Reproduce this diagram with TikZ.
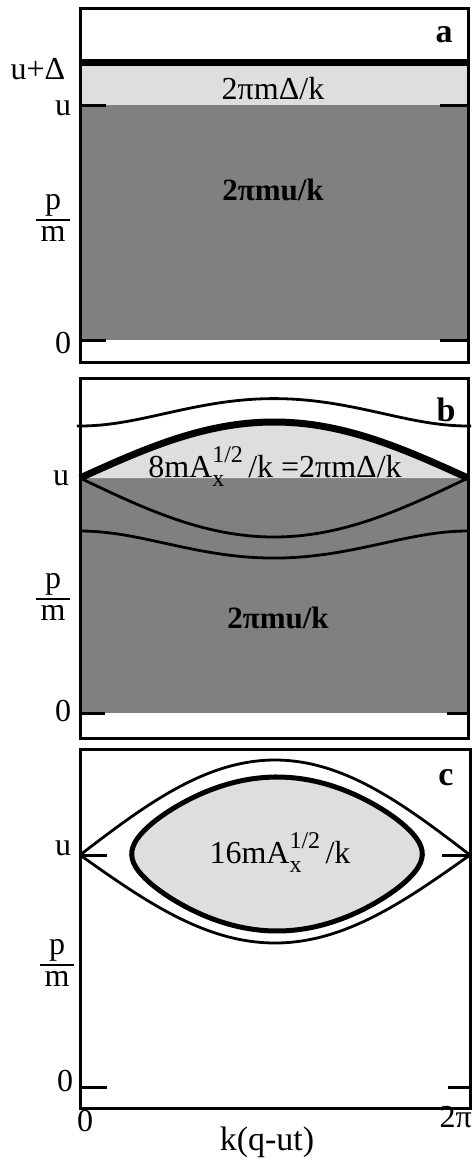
\documentclass[tikz,border=0pt]{standalone}
\usepackage{fontspec}
\setmainfont{Liberation Serif}
\begin{document}
\begin{tikzpicture}[x=1pt,y=-1pt,
  frame/.style={line width=3pt},
  tickline/.style={line width=3pt},
  curve/.style={line width=2.8pt},
  thickcurve/.style={line width=7pt},
  darkfill/.style={fill=black!50},
  lightfill/.style={fill=black!13},
  lbl/.style={font=\fontsize{32}{36}\selectfont, inner sep=0pt},
  tag/.style={font=\fontsize{34}{38}\selectfont\bfseries, inner sep=0pt},
  frac/.style={font=\fontsize{32}{36}\selectfont, inner sep=0pt, align=center}]
\useasboundingbox (0,0) rectangle (473,1159);
% ---------------- panel a
\fill[darkfill] (80,105) rectangle (468,340);
\fill[lightfill] (80,66) rectangle (468,105);
\draw[thickcurve] (80,62.5) -- (468,62.5);
\draw[frame] (80,8) rectangle (468,362);
\draw[tickline] (80,105) -- (106,105) (440,105) -- (468,105);
\draw[tickline] (80,340) -- (106,340) (440,340) -- (468,340);
\node[tag] (la) at (444,35) {a};
\node[lbl] (ad) at (273,89) {2πmΔ/k};
\node[lbl,font=\fontsize{31}{36}\selectfont\bfseries] (au) at (273,190) {2πmu/k};
\node[lbl] (aud) at (38,69) {u+Δ};
\node[lbl] (au0) at (63,108) {u};
\node[frac] (apm) at (53,218) {p\\[-4pt]m};
\draw[line width=1.5pt] (36,220) -- (70,220);
\node[lbl] (a0) at (63,343) {0};
% ---------------- panel b
\fill[darkfill] (80,478) rectangle (468,713);
\fill[lightfill] plot[domain=0:360,samples=90] ({80+\x/360*388},{478-56*sin(\x/2)}) -- cycle;
\draw[thickcurve] plot[domain=0:360,samples=90] ({80+\x/360*388},{478-56*sin(\x/2)});
\draw[curve] plot[domain=0:360,samples=90] ({80+\x/360*388},{478+59*sin(\x/2)});
\draw[curve] plot[domain=-3:363,samples=90] ({80+\x/360*388},{478-sqrt(2704+3600*(sin(\x/2))^2)});
\draw[curve] plot[domain=0:360,samples=90] ({80+\x/360*388},{478+sqrt(2809+3600*(sin(\x/2))^2)});
\draw[frame] (80,378) rectangle (468,738);
\draw[tickline] (80,713) -- (105,713) (447,713) -- (468,713);
\node[tag] (lb) at (446,410) {b};
\node[lbl] (bl) at (275,467) {8mA\rlap{\raisebox{-0.3em}{\fontsize{24}{26}\selectfont x}}\raisebox{0.45em}{\fontsize{24}{26}\selectfont 1/2}\,/k =2πmΔ/k};
\node[lbl,font=\fontsize{31}{36}\selectfont\bfseries] (bu) at (278,618) {2πmu/k};
\node[lbl] (bu0) at (61,478) {u};
\node[frac] (bpm) at (53,597) {p\\[-4pt]m};
\draw[line width=1.5pt] (36,599) -- (70,599);
\node[lbl] (b0) at (63,711) {0};
% ---------------- panel c
\fill[lightfill] plot[domain=0:360,samples=120] ({277+1.0833*2*asin(0.921*sin(\x))},{854-77*cos(\x)}) -- cycle;
\draw[line width=5pt] plot[domain=0:360,samples=120] ({277+1.0833*2*asin(0.921*sin(\x))},{854-77*cos(\x)}) -- cycle;
\draw[curve] plot[domain=0:360,samples=90] ({80+\x/360*390},{855-95*sin(\x/2)});
\draw[curve] plot[domain=0:360,samples=90] ({80+\x/360*390},{855+88*sin(\x/2)});
\draw[frame] (80,749) rectangle (470,1108);
\draw[tickline] (80,855) -- (107,855) (442,855) -- (470,855);
\draw[tickline] (80,1087) -- (107,1087) (448,1087) -- (470,1087);
\node[tag] (lc) at (446,778) {c};
\node[lbl] (cl) at (280,853) {16mA\rlap{\raisebox{-0.3em}{\fontsize{24}{26}\selectfont x}}\raisebox{0.45em}{\fontsize{24}{26}\selectfont 1/2}\,/k};
\node[lbl] (cu0) at (63,848) {u};
\node[frac] (cpm) at (57,963) {p\\[-4pt]m};
\draw[line width=1.5pt] (40,965) -- (74,965);
\node[lbl] (c0) at (65,1081) {0};
\node[lbl] (x0) at (85,1121) {0};
\node[lbl,anchor=east] (x2) at (472,1117) {2π};
\node[lbl,font=\fontsize{34}{38}\selectfont] (xl) at (267,1142) {k(q-ut)};
\end{tikzpicture}
\end{document}
